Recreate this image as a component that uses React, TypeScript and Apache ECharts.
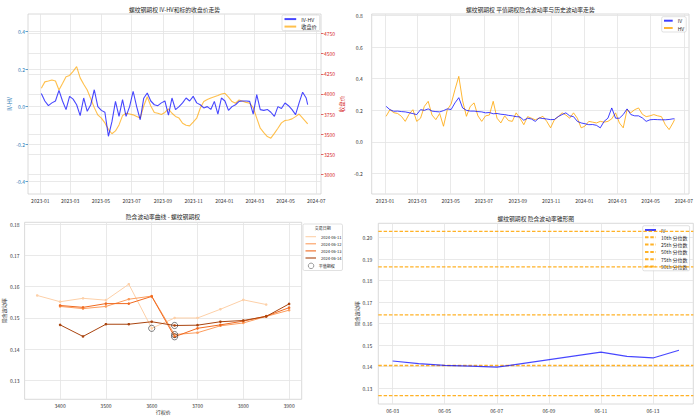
import React, { useEffect, useRef } from 'react';
import * as echarts from 'echarts';

const FONT = '"Noto Sans CJK SC", "DejaVu Sans", sans-serif';
const GRID_LINE = '#e3e3e3';
const FRAME = '#d0d0d0';
const TEXT = '#333333';
const TITLE = '#262626';
const TAB_BLUE = '#1f77b4';
const TAB_RED = '#d62728';

// ---------- top charts (weekly samples) ----------
const dates = [
  '2023-01-03','2023-01-10','2023-01-17','2023-01-24','2023-01-31','2023-02-07','2023-02-14','2023-02-21','2023-02-28',
  '2023-03-07','2023-03-14','2023-03-21','2023-03-28','2023-04-04','2023-04-11','2023-04-18','2023-04-25',
  '2023-05-02','2023-05-09','2023-05-16','2023-05-23','2023-05-30','2023-06-06','2023-06-13','2023-06-20','2023-06-27',
  '2023-07-04','2023-07-11','2023-07-18','2023-07-25','2023-08-01','2023-08-08','2023-08-15','2023-08-22','2023-08-29',
  '2023-09-05','2023-09-12','2023-09-19','2023-09-26','2023-10-03','2023-10-10','2023-10-17','2023-10-24','2023-10-31',
  '2023-11-07','2023-11-14','2023-11-21','2023-11-28','2023-12-05','2023-12-12','2023-12-19','2023-12-26',
  '2024-01-02','2024-01-09','2024-01-16','2024-01-23','2024-01-30','2024-02-06','2024-02-13','2024-02-20','2024-02-27',
  '2024-03-05','2024-03-12','2024-03-19','2024-03-26','2024-04-02','2024-04-09','2024-04-16','2024-04-23','2024-04-30',
  '2024-05-07','2024-05-14','2024-05-21','2024-05-28','2024-06-04','2024-06-11','2024-06-14',
];

const ivHvSpread = [
  0.070, 0.030, 0.005, 0.020, 0.030, 0.087, 0.030, -0.016, 0.055,
  0.040, 0.010, -0.048, 0.046, -0.025, 0.010, 0.090, 0.000,
  -0.020, -0.030, -0.158, -0.080, 0.028, -0.052, 0.037, -0.052, 0.000,
  0.082, 0.000, -0.070, 0.045, 0.073, 0.030, 0.010, 0.005, 0.020,
  0.030, -0.045, 0.046, -0.016, 0.000, 0.020, 0.046, 0.030, 0.055,
  0.020, 0.010, -0.007, 0.000, -0.015, 0.028, -0.040, 0.046,
  0.030, -0.020, 0.000, 0.010, 0.028, 0.030, 0.030, 0.028, -0.040,
  0.064, -0.016, -0.020, -0.015, -0.030, -0.052, 0.000, -0.010, 0.019,
  0.005, -0.016, -0.043, 0.020, 0.077, 0.046, 0.011,
];

const closePrice = [
  4070, 4150, 4160, 4174, 4160, 4050, 4130, 4215, 4230,
  4280, 4339, 4200, 4120, 4050, 3940, 3830, 3739,
  3700, 3640, 3560, 3505, 3540, 3615, 3730, 3760, 3750,
  3740, 3720, 3700, 3850, 3966, 3850, 3770, 3760, 3745,
  3770, 3815, 3760, 3720, 3700, 3636, 3610, 3603, 3650,
  3698, 3822, 3905, 3930, 3950, 3966, 3980, 4000,
  4008, 3960, 3905, 3884, 3925, 3910, 3895, 3884, 3830,
  3700, 3574, 3520, 3470, 3450, 3510, 3574, 3640, 3670,
  3677, 3690, 3718, 3750, 3700, 3650, 3627,
];

const atmIv = [
  0.225, 0.204, 0.194, 0.195, 0.192, 0.190, 0.185, 0.179, 0.173,
  0.204, 0.200, 0.209, 0.195, 0.192, 0.190, 0.198, 0.209,
  0.205, 0.247, 0.280, 0.215, 0.200, 0.195, 0.195, 0.192, 0.190,
  0.184, 0.186, 0.178, 0.180, 0.175, 0.173, 0.168, 0.165, 0.160,
  0.158, 0.137, 0.150, 0.145, 0.130, 0.152, 0.148, 0.145, 0.141,
  0.142, 0.160, 0.173, 0.184, 0.165, 0.160, 0.130, 0.120,
  0.115, 0.109, 0.110, 0.105, 0.089, 0.130, 0.150, 0.215, 0.150,
  0.150, 0.173, 0.209, 0.173, 0.165, 0.165, 0.152, 0.130, 0.140,
  0.142, 0.141, 0.140, 0.140, 0.142, 0.146, 0.146,
];

const histVol = [
  0.162, 0.204, 0.185, 0.180, 0.162, 0.130, 0.175, 0.204, 0.130,
  0.150, 0.225, 0.257, 0.170, 0.141, 0.180, 0.099, 0.204,
  0.240, 0.331, 0.415, 0.260, 0.162, 0.225, 0.247, 0.165, 0.130,
  0.165, 0.170, 0.257, 0.150, 0.120, 0.165, 0.135, 0.130, 0.184,
  0.150, 0.109, 0.160, 0.150, 0.140, 0.150, 0.162, 0.130, 0.089,
  0.140, 0.160, 0.184, 0.170, 0.150, 0.184, 0.150, 0.089,
  0.100, 0.130, 0.125, 0.120, 0.130, 0.125, 0.130, 0.146, 0.184,
  0.120, 0.089, 0.204, 0.185, 0.204, 0.215, 0.175, 0.160, 0.165,
  0.173, 0.165, 0.160, 0.109, 0.078, 0.120, 0.141,
];

const monthTickLabels = ['2023-01','2023-03','2023-05','2023-07','2023-09','2023-11','2024-01','2024-03','2024-05','2024-07'];
const spreadTicks = [-0.4, -0.2, 0, 0.2, 0.4];
const priceTicks = [3000, 3250, 3500, 3750, 4000, 4250, 4500, 4750];
const volTicks = [-0.2, 0, 0.2, 0.4, 0.6, 0.8];

// ---------- volatility smile ----------
const strikes = [3350, 3400, 3450, 3500, 3550, 3600, 3650, 3700, 3750, 3800, 3850, 3900];
const smileDates = ['2024-06-11', '2024-06-12', '2024-06-13', '2024-06-14'];
const smile0611 = [0.1572, 0.1552, 0.1563, 0.1557, 0.1608, 0.1467, 0.1500, 0.1500, 0.1528, 0.1558, 0.1543, null];
const smile0612 = [null, 0.1537, 0.1530, 0.1537, 0.1560, 0.1570, 0.1447, 0.1453, 0.1475, 0.1484, 0.1505, 0.1525];
const smile0613 = [null, 0.1540, 0.1534, 0.1546, 0.1546, 0.1569, 0.1440, 0.1467, 0.1478, 0.1490, 0.1506, 0.1533];
const smile0614 = [null, 0.1478, 0.1441, 0.1480, 0.1480, 0.1488, 0.1476, 0.1477, 0.1488, 0.1492, 0.1505, 0.1545];
const smileColors = ['#fdd0a8', '#fc9d5e', '#f06a20', '#a9440f'];
const atmStrikes = [3600, 3650, 3650, 3650];
const atmSmileIv = [0.1467, 0.1447, 0.1440, 0.1476];
const strikeTicks = [3400, 3500, 3600, 3700, 3800, 3900];
const smileTicks = [0.13, 0.14, 0.15, 0.16, 0.17, 0.18];

// ---------- volatility cone ----------
const coneDates = ['2024-06-03','2024-06-04','2024-06-05','2024-06-06','2024-06-07','2024-06-11','2024-06-12','2024-06-13','2024-06-14'];
const coneIv = [0.1426, 0.1414, 0.1406, 0.1402, 0.1397, 0.1467, 0.1447, 0.1440, 0.1476];
const quantileNames = ['10th 分位数', '25th 分位数', '50th 分位数', '75th 分位数', '90th 分位数'];
const quantileValues = [0.1265, 0.1405, 0.1640, 0.1863, 0.2028];
const coneTickLabels = ['06-03', '06-05', '06-07', '06-09', '06-11', '06-13'];
const coneYTicks = [0.13, 0.14, 0.15, 0.16, 0.17, 0.18, 0.19, 0.20];

function ts(s: string): number {
  const [y, m, d] = s.split('-').map(Number);
  return new Date(y, m - 1, d || 1).getTime();
}
const fmt = (digits: number) => (v: number) => (v < 0 ? '-' : '') + Math.abs(v).toFixed(digits);

function App() {
  const ref = useRef<HTMLDivElement>(null);

  useEffect(() => {
    if (!ref.current) return;
    const chart = echarts.init(ref.current, undefined, { renderer: 'svg' });

    const monthTs = monthTickLabels.map((l) => ts(l + '-01'));
    const monthMap = new Map<number, string>();
    monthTs.forEach((t, i) => monthMap.set(t, monthTickLabels[i]));
    const t0 = ts(dates[0]);
    const t1 = ts(dates[dates.length - 1]);
    const padTop = (t1 - t0) * 0.05;

    const coneTs = coneTickLabels.map((l) => ts('2024-' + l));
    const coneMap = new Map<number, string>();
    coneTs.forEach((t, i) => coneMap.set(t, coneTickLabels[i]));
    const c0 = ts(coneDates[0]);
    const c1 = ts(coneDates[coneDates.length - 1]);
    const padCone = (c1 - c0) * 0.05;
    const coneMin = c0 - padCone;
    const coneMax = c1 + padCone;

    const tickText = { fontSize: 5, color: TEXT, fontFamily: FONT };
    const split = { show: true, lineStyle: { color: GRID_LINE, width: 0.8 } };
    const gridBase = { show: true, borderColor: FRAME, borderWidth: 0.8, backgroundColor: '#ffffff', containLabel: false };
    const hideSymbol = { opacity: 0 };

    const dateAxis = (gridIndex: number, min: number, max: number, ticks: number[], map: Map<number, string>) => ({
      type: 'value',
      gridIndex,
      min,
      max,
      axisLine: { show: false },
      axisTick: { show: false, customValues: ticks },
      axisLabel: { ...tickText, margin: 4, customValues: ticks, formatter: (v: number) => map.get(v) ?? '' },
      splitLine: split,
    });

    const smileSets = [smile0611, smile0612, smile0613, smile0614];

    const option: any = {
      animation: false,
      backgroundColor: '#ffffff',
      textStyle: { fontFamily: FONT },
      grid: [
        { ...gridBase, left: 28, top: 14, width: 293, height: 180 },
        { ...gridBase, left: 371.7, top: 14, width: 317.3, height: 180 },
        { ...gridBase, left: 24, top: 222.3, width: 277.7, height: 177 },
        { ...gridBase, left: 378.3, top: 223.3, width: 315, height: 180.7 },
      ],
      xAxis: [
        dateAxis(0, t0 - padTop, t1 + padTop, monthTs, monthMap),
        dateAxis(1, t0 - padTop, t1 + padTop, monthTs, monthMap),
        {
          type: 'value', gridIndex: 2, min: 3322.5, max: 3927.5,
          axisLine: { show: false },
          axisTick: { show: false, customValues: strikeTicks },
          axisLabel: { ...tickText, margin: 4, customValues: strikeTicks, formatter: (v: number) => String(v) },
          splitLine: split,
          name: '行权价', nameLocation: 'middle', nameGap: 10,
          nameTextStyle: { fontSize: 5, color: TITLE, fontFamily: FONT },
        },
        dateAxis(3, coneMin, coneMax, coneTs, coneMap),
      ],
      yAxis: [
        {
          type: 'value', gridIndex: 0, position: 'left', min: -0.466, max: 0.494,
          axisLine: { show: false },
          axisTick: { show: true, length: 2.5, customValues: spreadTicks, lineStyle: { color: TAB_BLUE, width: 0.7 } },
          axisLabel: { ...tickText, color: TAB_BLUE, margin: 3, customValues: spreadTicks, formatter: fmt(1) },
          splitLine: split,
          name: 'IV-HV', nameLocation: 'middle', nameGap: 15, nameRotate: 90,
          nameTextStyle: { fontSize: 5.5, color: TAB_BLUE, fontFamily: FONT },
        },
        {
          type: 'value', gridIndex: 0, position: 'right', min: 2756, max: 4994,
          axisLine: { show: false },
          axisTick: { show: true, length: 2.5, customValues: priceTicks, lineStyle: { color: TAB_RED, width: 0.7 } },
          axisLabel: { ...tickText, color: TAB_RED, margin: 3, customValues: priceTicks, formatter: fmt(0) },
          splitLine: split,
          name: '收盘价', nameLocation: 'middle', nameGap: 15, nameRotate: 90,
          nameTextStyle: { fontSize: 5.5, color: TAB_RED, fontFamily: FONT },
        },
        {
          type: 'value', gridIndex: 1, min: -0.33, max: 0.81,
          axisLine: { show: false },
          axisTick: { show: false, customValues: volTicks },
          axisLabel: { ...tickText, margin: 9, customValues: volTicks, formatter: fmt(1) },
          splitLine: split,
        },
        {
          type: 'value', gridIndex: 2, min: 0.1240, max: 0.1806,
          axisLine: { show: false },
          axisTick: { show: false, customValues: smileTicks },
          axisLabel: { ...tickText, margin: 5, customValues: smileTicks, formatter: fmt(2) },
          splitLine: split,
          name: '隐含波动率', nameLocation: 'middle', nameGap: 16, nameRotate: 90,
          nameTextStyle: { fontSize: 5, color: TITLE, fontFamily: FONT },
        },
        {
          type: 'value', gridIndex: 3, min: 0.1226, max: 0.2066,
          axisLine: { show: false },
          axisTick: { show: false, customValues: coneYTicks },
          axisLabel: { ...tickText, margin: 6, customValues: coneYTicks, formatter: fmt(2) },
          splitLine: split,
          name: '隐含波动率', nameLocation: 'middle', nameGap: 17, nameRotate: 90,
          nameTextStyle: { fontSize: 5, color: TITLE, fontFamily: FONT },
        },
      ],
      legend: [
        {
          left: 282, top: 15, orient: 'vertical', data: ['IV-HV', '收盘价'],
          itemWidth: 11.7, itemHeight: 5, itemGap: 2.3, padding: [1.5, 3, 1.5, 1.5],
          itemStyle: hideSymbol,
          borderColor: '#cccccc', borderWidth: 0.6, borderRadius: 1.5, backgroundColor: 'rgba(255,255,255,0.85)',
          textStyle: { fontSize: 5.2, lineHeight: 5, color: TITLE, fontFamily: FONT },
        },
        {
          left: 661.7, top: 16.7, orient: 'vertical', data: ['IV', 'HV'],
          itemWidth: 8.7, itemHeight: 5, itemGap: 2.3, padding: [1.5, 2, 1.5, 1.3],
          itemStyle: hideSymbol,
          borderColor: '#cccccc', borderWidth: 0.6, borderRadius: 1.5, backgroundColor: 'rgba(255,255,255,0.85)',
          textStyle: { fontSize: 5, lineHeight: 5, color: TITLE, fontFamily: FONT },
        },
        {
          left: 305.5, top: 234.2, orient: 'vertical', data: smileDates, icon: 'rect',
          itemWidth: 10.5, itemHeight: 1.1, itemGap: 2.1, padding: 0,
          textStyle: { fontSize: 4, lineHeight: 5, color: TITLE, fontFamily: FONT },
        },
        {
          left: 308, top: 262.8, orient: 'vertical', data: ['平值期权'], icon: 'circle',
          itemWidth: 5.5, itemHeight: 5.5, padding: 0,
          itemStyle: { color: 'rgba(255,255,255,0)', borderColor: '#333333', borderWidth: 0.6 },
          textStyle: { fontSize: 4, lineHeight: 5.5, color: TITLE, fontFamily: FONT },
        },
        {
          left: 642.7, top: 225.7, orient: 'vertical', data: ['IV', ...quantileNames],
          itemWidth: 11, itemHeight: 5, itemGap: 2.3, padding: [1.8, 2, 1.8, 1.3],
          itemStyle: hideSymbol,
          borderColor: '#cccccc', borderWidth: 0.6, borderRadius: 1.5, backgroundColor: 'rgba(255,255,255,0.85)',
          textStyle: { fontSize: 5, lineHeight: 5, color: TITLE, fontFamily: FONT },
        },
      ],
      graphic: [
        { type: 'text', x: 174.5, y: 9.3, z: 10, style: { text: '螺纹钢期权 IV-HV和标的收盘价走势', fill: TITLE, font: `5.8px ${FONT}`, textAlign: 'center', textVerticalAlign: 'middle' } },
        { type: 'text', x: 530.3, y: 9.3, z: 10, style: { text: '螺纹钢期权 平值期权隐含波动率与历史波动率走势', fill: TITLE, font: `5.8px ${FONT}`, textAlign: 'center', textVerticalAlign: 'middle' } },
        { type: 'text', x: 162.9, y: 216.7, z: 10, style: { text: '隐含波动率曲线 - 螺纹钢期权', fill: TITLE, font: `5.8px ${FONT}`, textAlign: 'center', textVerticalAlign: 'middle' } },
        { type: 'text', x: 535.8, y: 218.3, z: 10, style: { text: '螺纹钢期权 隐含波动率锥形图', fill: TITLE, font: `5.8px ${FONT}`, textAlign: 'center', textVerticalAlign: 'middle' } },
        { type: 'rect', z: 1, shape: { x: 303, y: 224, width: 39.5, height: 46.5, r: 1.5 }, style: { fill: '#ffffff', stroke: '#cccccc', lineWidth: 0.6 } },
        { type: 'text', x: 322.7, y: 228, z: 10, style: { text: '交易日期', fill: TITLE, font: `4px ${FONT}`, textAlign: 'center', textVerticalAlign: 'middle' } },
      ],
      series: [
        {
          name: 'IV-HV', type: 'line', xAxisIndex: 0, yAxisIndex: 0, showSymbol: false, symbol: 'none',
          data: dates.map((d, i) => [ts(d), ivHvSpread[i]]),
          lineStyle: { color: '#0000ff', width: 1.1, opacity: 0.72 }, itemStyle: { color: '#0000ff' }, z: 3,
        },
        {
          name: '收盘价', type: 'line', xAxisIndex: 0, yAxisIndex: 1, showSymbol: false, symbol: 'none',
          data: dates.map((d, i) => [ts(d), closePrice[i]]),
          lineStyle: { color: '#ffa500', width: 1.1, opacity: 0.7 }, itemStyle: { color: '#ffa500' }, z: 2,
        },
        {
          name: 'IV', type: 'line', xAxisIndex: 1, yAxisIndex: 2, showSymbol: false, symbol: 'none',
          data: dates.map((d, i) => [ts(d), atmIv[i]]),
          lineStyle: { color: '#0000ff', width: 1, opacity: 0.75 }, itemStyle: { color: '#0000ff' }, z: 3,
        },
        {
          name: 'HV', type: 'line', xAxisIndex: 1, yAxisIndex: 2, showSymbol: false, symbol: 'none',
          data: dates.map((d, i) => [ts(d), histVol[i]]),
          lineStyle: { color: '#ffa500', width: 1, opacity: 0.8 }, itemStyle: { color: '#ffa500' }, z: 2,
        },
        ...smileDates.map((name, k) => ({
          name, type: 'line', xAxisIndex: 2, yAxisIndex: 3, symbol: 'circle', symbolSize: 2.6, showSymbol: true,
          data: strikes.map((s, i) => [s, smileSets[k][i]]).filter((p) => p[1] != null),
          lineStyle: { color: smileColors[k], width: 1 }, itemStyle: { color: smileColors[k] }, z: 2 + k,
        })),
        {
          name: '平值期权', type: 'scatter', xAxisIndex: 2, yAxisIndex: 3, symbol: 'circle', symbolSize: 6.2,
          data: atmStrikes.map((s, i) => [s, atmSmileIv[i]]),
          itemStyle: { color: 'rgba(255,255,255,0)', borderColor: '#333333', borderWidth: 0.8 }, z: 10,
        },
        {
          name: 'IV', type: 'line', xAxisIndex: 3, yAxisIndex: 4, showSymbol: false, symbol: 'none',
          data: coneDates.map((d, i) => [ts(d), coneIv[i]]),
          lineStyle: { color: '#0000ff', width: 1.2, opacity: 0.72 }, itemStyle: { color: '#0000ff' }, z: 5,
        },
        ...quantileNames.map((name, k) => ({
          name, type: 'line', xAxisIndex: 3, yAxisIndex: 4, showSymbol: false, symbol: 'none',
          data: [[coneMin, quantileValues[k]], [coneMax, quantileValues[k]]],
          lineStyle: { color: '#ffa500', width: 1.3, type: [3.5, 1.8], opacity: 0.85 },
          itemStyle: { color: '#ffa500' },
          z: 4,
        })),
      ],
    };

    chart.setOption(option);
    return () => chart.dispose();
  }, []);

  return <div ref={ref} style={{ position: 'fixed', left: 0, top: 0, width: 700, height: 419, background: '#fff' }} />;
}

export default App;
